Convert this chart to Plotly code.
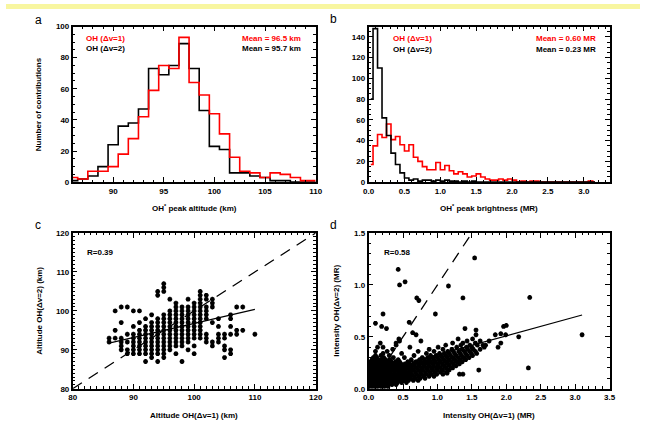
import plotly.graph_objects as go

# ---- panel a: OH* peak altitude histograms (bin centres, km) ----
alt_bins = [86, 87, 88, 89, 90, 91, 92, 93, 94, 95, 96, 97, 98, 99, 100,
            101, 102, 103, 104, 105, 106, 107, 108, 109, 110]
alt_hist_dv1 = [3, 2, 7, 7, 10, 18, 28, 42, 59, 75, 73, 93, 64, 56, 44,
                31, 16, 7, 6, 3, 6, 5, 3, 1, 1]
alt_hist_dv2 = [1, 2, 4, 10, 24, 36, 38, 47, 73, 69, 75, 89, 73, 46, 23,
                21, 6, 6, 4, 3, 1, 1, 0, 0, 0]

# ---- panel b: OH* peak brightness histograms (bin centres, MR) ----
bri_bins = [0.031, 0.094, 0.156, 0.219, 0.281, 0.344, 0.406, 0.469, 0.531, 0.594,
            0.656, 0.719, 0.781, 0.844, 0.906, 0.969, 1.031, 1.094, 1.156, 1.219,
            1.281, 1.344, 1.406, 1.469, 1.531, 1.594, 1.656, 1.719, 1.781, 1.844,
            1.906, 1.969, 2.031, 2.094, 2.156, 2.219, 2.281, 2.344, 2.406, 2.469,
            2.531, 2.594, 2.656, 2.719, 2.781, 2.844, 2.906, 2.969, 3.031, 3.094,
            3.156]
bri_hist_dv1 = [17, 35, 46, 43, 56, 41, 44, 36, 30, 36,
                24, 20, 15, 12, 12, 19, 12, 16, 11, 8,
                10, 8, 5, 6, 8, 5, 3, 2, 2, 3,
                2, 3, 2, 0, 1, 0, 1, 1, 0, 0,
                0, 0, 0, 0, 0, 0, 0, 0, 0, 1,
                0]
bri_hist_dv2 = [80, 148, 110, 62, 45, 28, 17, 9, 4, 2,
                3, 1, 2, 2, 1, 2, 1, 2, 1, 1,
                0, 1, 0, 1, 0, 0, 0, 0, 0, 0,
                0, 0, 0, 0, 0, 0, 0, 0, 0, 0,
                0, 0, 0, 0, 0, 0, 0, 0, 0, 0,
                0]

# ---- panel c: altitude OH(dv=1) (columns) vs OH(dv=2) values, km ----
alt_cols_dv1 = [86, 87, 88, 89, 90, 91, 92, 93, 94, 95, 96, 97, 98,
                99, 100, 101, 102, 103, 104, 105, 106, 107, 108, 110]
alt_cols_dv2 = [
    [92, 93],
    [100, 93, 95],
    [101, 97, 90, 91, 92, 93],
    [101, 94, 92, 90, 89],
    [100, 96, 94, 93, 92, 91, 90, 89],
    [100, 97, 95, 94, 93, 92, 91, 90, 89],
    [98, 96, 95, 94, 93, 92, 91, 90, 89, 87],
    [99, 97, 96, 95, 94, 93, 92, 91, 90, 89, 88],
    [105, 104, 98, 97, 96, 95, 94, 93, 92, 91, 90, 89, 87],
    [107, 106, 105, 99, 98, 97, 96, 95, 94, 93, 92, 91, 90, 89, 88],
    [103, 100, 99, 98, 97, 96, 95, 94, 93, 92, 91, 90],
    [102, 101, 100, 99, 98, 97, 96, 95, 94, 93, 92, 91, 89],
    [101, 100, 99, 98, 97, 96, 95, 94, 93, 92, 91, 87],
    [103, 101, 100, 99, 98, 97, 96, 95, 94, 93, 92, 90],
    [102, 101, 100, 99, 98, 97, 96, 95, 94, 93, 91, 89],
    [105, 104, 103, 102, 101, 100, 99, 98, 97, 96, 95, 94, 93],
    [104, 103, 101, 100, 99, 98, 94, 93, 92],
    [103, 102, 101, 97, 92, 91],
    [98, 96, 94, 93, 92],
    [94, 93, 91, 90, 88],
    [99, 98, 96, 94, 90, 89],
    [101, 95, 94],
    [101, 95],
    [94],
]
alt_fit_x = [86, 110]
alt_fit_y = [91.7, 100.4]
alt_r = "R=0.39"

# ---- panel d: intensity, dense core read as rows (OH dv=2 level -> OH dv=1 values), MR ----
int_rows_dv2 = [0.02, 0.04, 0.06, 0.08, 0.10, 0.12, 0.14, 0.16, 0.18, 0.20, 0.22, 0.24,
                0.26, 0.28, 0.30, 0.32, 0.34, 0.36, 0.38, 0.40, 0.42, 0.44, 0.46, 0.48]
int_rows_dv1 = [
    [0.01, 0.05, 0.09, 0.13, 0.18, 0.23, 0.28],
    [0.02, 0.06, 0.10, 0.14, 0.19, 0.24, 0.29, 0.34, 0.40],
    [0.01, 0.04, 0.08, 0.12, 0.16, 0.21, 0.26, 0.31, 0.36, 0.42, 0.48, 0.55],
    [0.03, 0.07, 0.11, 0.15, 0.19, 0.24, 0.29, 0.34, 0.39, 0.45, 0.51, 0.58, 0.65, 0.72],
    [0.02, 0.05, 0.09, 0.13, 0.17, 0.22, 0.27, 0.32, 0.37, 0.43, 0.49, 0.55, 0.61, 0.68,
     0.75, 0.82],
    [0.04, 0.08, 0.12, 0.16, 0.20, 0.25, 0.30, 0.35, 0.41, 0.47, 0.53, 0.59, 0.66, 0.73,
     0.80, 0.88, 0.95],
    [0.02, 0.06, 0.10, 0.14, 0.18, 0.23, 0.28, 0.33, 0.39, 0.45, 0.51, 0.57, 0.63, 0.70,
     0.77, 0.84, 0.91, 0.99, 1.08, 1.37],
    [0.04, 0.08, 0.12, 0.16, 0.21, 0.26, 0.31, 0.37, 0.43, 0.49, 0.55, 0.61, 0.68, 0.75,
     0.82, 0.89, 0.96, 1.04, 1.13],
    [0.02, 0.06, 0.10, 0.14, 0.19, 0.24, 0.29, 0.35, 0.41, 0.47, 0.53, 0.59, 0.65, 0.72,
     0.79, 0.86, 0.93, 1.00, 1.08, 1.17, 1.60],
    [0.04, 0.08, 0.12, 0.17, 0.22, 0.27, 0.33, 0.39, 0.45, 0.51, 0.57, 0.63, 0.70, 0.77,
     0.84, 0.91, 0.98, 1.05, 1.13, 1.22],
    [0.02, 0.06, 0.10, 0.15, 0.20, 0.25, 0.31, 0.37, 0.43, 0.49, 0.55, 0.61, 0.67, 0.74,
     0.81, 0.88, 0.95, 1.02, 1.10, 1.18, 1.27],
    [0.04, 0.08, 0.13, 0.18, 0.23, 0.29, 0.35, 0.41, 0.47, 0.53, 0.59, 0.65, 0.72, 0.79,
     0.86, 0.93, 1.00, 1.07, 1.15, 1.23, 1.32],
    [0.03, 0.07, 0.11, 0.16, 0.21, 0.27, 0.33, 0.39, 0.45, 0.57, 0.69, 0.76, 0.83, 0.90,
     0.97, 1.04, 1.12, 1.20, 1.28, 1.36],
    [0.05, 0.09, 0.14, 0.19, 0.25, 0.31, 0.43, 0.62, 0.74, 0.81, 0.88, 0.95, 1.02, 1.09,
     1.17, 1.25, 1.33, 1.41],
    [0.07, 0.12, 0.22, 0.36, 0.52, 0.78, 0.86, 0.93, 1.00, 1.07, 1.14, 1.22, 1.30, 1.38, 1.46],
    [0.10, 0.18, 0.30, 0.66, 0.90, 0.98, 1.05, 1.12, 1.19, 1.27, 1.35, 1.43, 1.51],
    [0.21, 0.48, 0.84, 1.03, 1.10, 1.17, 1.25, 1.33, 1.41, 1.49, 1.57],
    [0.10, 0.27, 0.72, 0.95, 1.15, 1.23, 1.31, 1.39, 1.47, 1.55],
    [0.35, 0.88, 1.08, 1.21, 1.36, 1.44, 1.52, 1.62],
    [0.13, 0.21, 0.60, 1.01, 1.28, 1.42, 1.50, 1.68, 1.88],
    [0.40, 1.12, 1.34, 1.47, 1.58, 1.66, 1.70],
    [0.17, 0.40, 1.22, 1.37, 1.55, 1.92],
    [0.45, 0.76, 1.43, 1.62, 1.75],
    [0.44, 1.30, 1.51],
]
# isolated points outside the dense core
int_out_dv1 = [0.43, 0.45, 0.53, 0.21, 0.10, 0.19, 0.26, 0.70, 0.73, 0.97,
               1.16, 1.37, 1.54, 2.34, 3.10, 2.32, 0.59, 0.64, 0.69, 1.56,
               1.56, 1.84, 1.99, 1.92, 1.96, 2.00, 2.18, 1.40, 1.14, 1.32]
int_out_dv2 = [1.15, 1.00, 1.03, 0.72, 0.63, 0.60, 0.58, 0.875, 0.85, 0.72,
               0.99, 0.875, 1.26, 0.88, 0.52, 0.20, 0.64, 0.54, 0.52, 0.565,
               0.52, 0.52, 0.52, 0.53, 0.60, 0.61, 0.50, 0.58, 0.15, 0.14]
int_fit_x = [0.02, 3.10]
int_fit_y = [0.15, 0.71]
int_r = "R=0.58"

W, H = 647, 427
FONT = "Liberation Sans"
RED = "#ff0000"


def px_x(p):
    return p / W


def px_y(p):
    return 1 - p / H


# flatten the column / row readings into point lists
c_x = [x for x, ys in zip(alt_cols_dv1, alt_cols_dv2) for _ in ys]
c_y = [y for ys in alt_cols_dv2 for y in ys]
d_x = [x for xs in int_rows_dv1 for x in xs] + int_out_dv1
d_y = [y for y, xs in zip(int_rows_dv2, int_rows_dv1) for _ in xs] + int_out_dv2

# panel pixel boxes: (left, right, top, bottom)
boxes = {
    "a": (68, 316, 23, 182),
    "b": (370, 616, 23, 182),
    "c": (68, 316, 234, 393),
    "d": (370, 616, 234, 393),
}

fig = go.Figure()

# histograms
fig.add_trace(go.Scatter(x=alt_bins, y=alt_hist_dv2, mode="lines", line_shape="hvh",
                         line=dict(color="black", width=1.6), xaxis="x", yaxis="y"))
fig.add_trace(go.Scatter(x=alt_bins, y=alt_hist_dv1, mode="lines", line_shape="hvh",
                         line=dict(color=RED, width=1.6), xaxis="x", yaxis="y"))
fig.add_trace(go.Scatter(x=bri_bins, y=bri_hist_dv1, mode="lines", line_shape="hvh",
                         line=dict(color=RED, width=1.6), xaxis="x2", yaxis="y2"))
fig.add_trace(go.Scatter(x=bri_bins, y=bri_hist_dv2, mode="lines", line_shape="hvh",
                         line=dict(color="black", width=1.6), xaxis="x2", yaxis="y2"))

star = dict(symbol="asterisk-open", size=4, color="black",
            line=dict(color="black", width=1.5))

# scatter c
fig.add_trace(go.Scatter(x=c_x, y=c_y, mode="markers", marker=star,
                         xaxis="x3", yaxis="y3"))
fig.add_trace(go.Scatter(x=[80, 120], y=[80, 120], mode="lines",
                         line=dict(color="black", width=1.3, dash="11px,8px"),
                         xaxis="x3", yaxis="y3"))
fig.add_trace(go.Scatter(x=alt_fit_x, y=alt_fit_y, mode="lines",
                         line=dict(color="black", width=1.2), xaxis="x3", yaxis="y3"))

# scatter d
fig.add_trace(go.Scatter(x=d_x, y=d_y, mode="markers", marker=star,
                         xaxis="x4", yaxis="y4"))
fig.add_trace(go.Scatter(x=[0, 1.5], y=[0, 1.5], mode="lines",
                         line=dict(color="black", width=1.3, dash="11px,8px"),
                         xaxis="x4", yaxis="y4"))
fig.add_trace(go.Scatter(x=int_fit_x, y=int_fit_y, mode="lines",
                         line=dict(color="black", width=1.2), xaxis="x4", yaxis="y4"))


def axis(box, horizontal, rng, dtick, minor, anchor):
    l, r, t, b = box
    dom = [px_x(l), px_x(r)] if horizontal else [px_y(b), px_y(t)]
    return dict(domain=dom, range=rng, anchor=anchor, dtick=dtick,
                showgrid=False, zeroline=False, showline=True, linecolor="black",
                linewidth=1.5, mirror="allticks", ticks="inside", ticklen=5,
                tickwidth=1, tickcolor="black",
                minor=dict(ticks="inside", ticklen=2.5, dtick=minor, tickcolor="black",
                           tickwidth=1, showgrid=False),
                tickfont=dict(family=FONT, size=8, color="black", weight="bold"))


fig.update_layout(
    width=W, height=H, margin=dict(l=0, r=0, t=0, b=0),
    paper_bgcolor="white", plot_bgcolor="white", showlegend=False,
    xaxis=axis(boxes["a"], True, [86, 110], 5, 1, "y"),
    yaxis=axis(boxes["a"], False, [0, 100], 20, 5, "x"),
    xaxis2=axis(boxes["b"], True, [0, 3.36], 0.5, 0.1, "y2"),
    yaxis2=axis(boxes["b"], False, [0, 150], 20, 5, "x2"),
    xaxis3=axis(boxes["c"], True, [80, 120], 10, 1, "y3"),
    yaxis3=axis(boxes["c"], False, [80, 120], 10, 1, "x3"),
    xaxis4=axis(boxes["d"], True, [0, 3.5], 0.5, 0.1, "y4"),
    yaxis4=axis(boxes["d"], False, [0, 1.5], 0.5, 0.1, "x4"),
)
fig.update_layout(xaxis2_tickformat=".1f", xaxis4_tickformat=".1f", yaxis4_tickformat=".1f")

# top yellow band
fig.add_shape(type="rect", xref="paper", yref="paper", x0=0, x1=1, y0=px_y(5), y1=1,
              fillcolor="#f8f6a0", line_width=0, layer="below")


def text(x, y, s, size=8, color="black", xanchor="center", angle=0, weight="bold"):
    fig.add_annotation(x=px_x(x), y=px_y(y), xref="paper", yref="paper", text=s,
                       showarrow=False, xanchor=xanchor, yanchor="middle",
                       textangle=angle,
                       font=dict(family=FONT, size=size, color=color, weight=weight))


# panel letters
text(33, 16, "a", size=12, weight="normal")
text(334, 15, "b", size=12, weight="normal")
text(33, 226, "c", size=12, weight="normal")
text(334, 226, "d", size=12, weight="normal")

# axis titles
text(192, 208, "OH<sup>*</sup> peak altitude (km)")
text(493, 208, "OH<sup>*</sup> peak brightness (MR)")
text(192, 420, "Altitude OH(Δv=1) (km)")
text(493, 420, "Intensity OH(Δv=1) (MR)")
text(34, 102, "Number of contributions", angle=-90)
text(34, 313, "Altitude OH(Δv=2) (km)", angle=-90)
text(337, 313, "Intensity OH(Δv=2) (MR)", angle=-90)

# in-panel labels
text(80, 35, "OH (Δv=1)", color=RED, xanchor="left")
text(80, 45, "OH (Δv=2)", xanchor="left")
text(303, 35, "Mean = 96.5 km", color=RED, xanchor="right")
text(303, 45, "Mean = 95.7 km", xanchor="right")
text(393, 35, "OH (Δv=1)", color=RED, xanchor="left")
text(393, 46, "OH (Δv=2)", xanchor="left")
text(604, 35, "Mean = 0.60 MR", color=RED, xanchor="right")
text(604, 46, "Mean = 0.23 MR", xanchor="right")
text(81, 254, alt_r, xanchor="left")
text(384, 254, int_r, xanchor="left")

fig.write_html("out.html", config={"displayModeBar": False},
               post_script="document.body.style.margin='0';")
